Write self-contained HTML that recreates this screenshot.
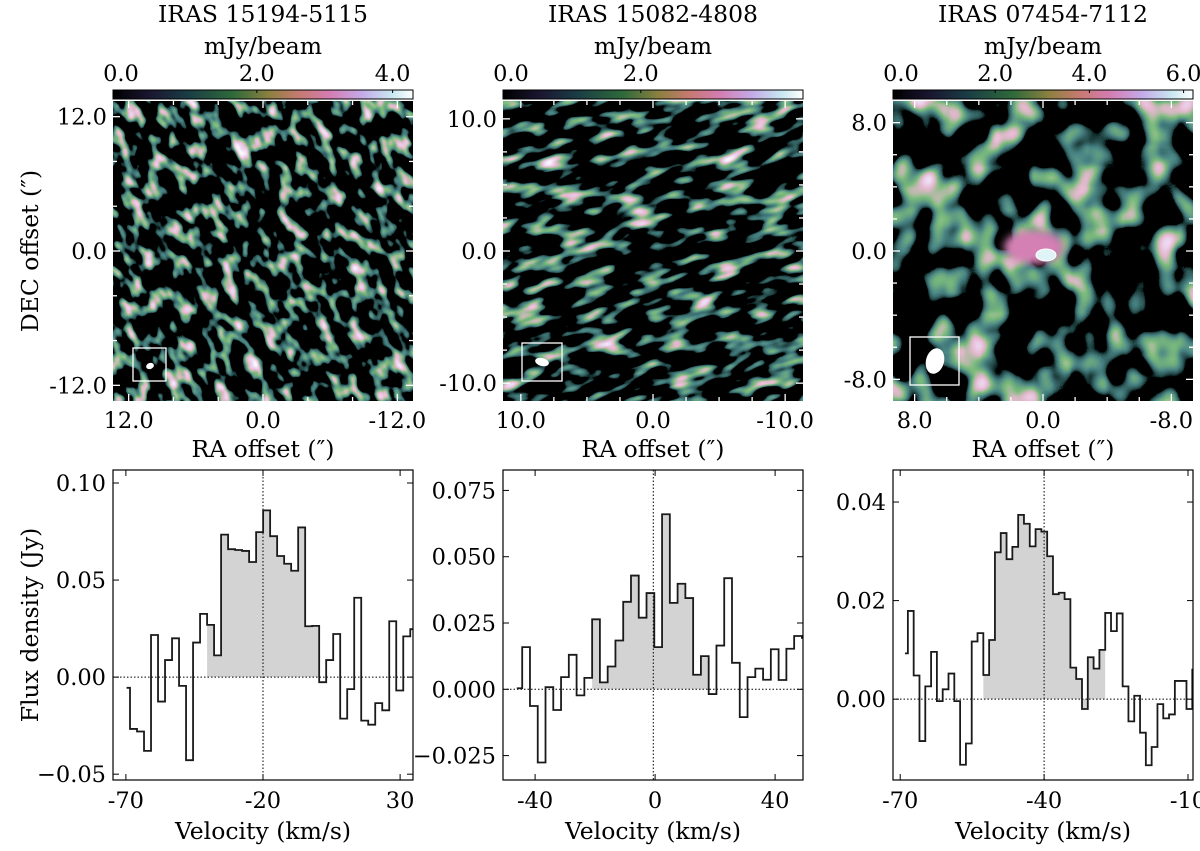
<!DOCTYPE html>
<html><head><meta charset="utf-8"><style>
html,body{margin:0;padding:0;background:#fff;overflow:hidden;width:1200px;height:851px;}
svg{display:block;font-family:"DejaVu Serif","Liberation Serif",serif;}
</style></head><body>
<svg id="fig" width="1200" height="851" viewBox="0 0 1200 851" xmlns="http://www.w3.org/2000/svg">
<defs>
<linearGradient id="cmap" x1="0" x2="1" y1="0" y2="0">
<stop offset="0" stop-color="#000000"/><stop offset="0.12" stop-color="#1a1530"/>
<stop offset="0.25" stop-color="#1a3d45"/><stop offset="0.4" stop-color="#2e6a3a"/>
<stop offset="0.52" stop-color="#8c8040"/><stop offset="0.62" stop-color="#c67a70"/>
<stop offset="0.72" stop-color="#d47cb0"/><stop offset="0.83" stop-color="#c4aae8"/>
<stop offset="0.93" stop-color="#c8e8f0"/><stop offset="1" stop-color="#ffffff"/>
</linearGradient>
<filter id="n1" x="0" y="0" width="1" height="1" filterUnits="objectBoundingBox">
<feTurbulence type="fractalNoise" baseFrequency="0.075 0.05" numOctaves="2" seed="3"/>
<feColorMatrix type="matrix" values="2.2 0 0 0 -0.95  2.2 0 0 0 -0.95  2.2 0 0 0 -0.95  0 0 0 0 1"/>
<feComponentTransfer><feFuncR type="table" tableValues="0 0 0.07 0.2 0.78 0.85 1"/><feFuncG type="table" tableValues="0 0 0.24 0.5 0.48 0.7 1"/><feFuncB type="table" tableValues="0 0 0.24 0.2 0.62 0.9 1"/></feComponentTransfer>
</filter>
<filter id="n2" x="0" y="0" width="1" height="1" filterUnits="objectBoundingBox">
<feTurbulence type="fractalNoise" baseFrequency="0.03 0.075" numOctaves="2" seed="7"/>
<feColorMatrix type="matrix" values="2.2 0 0 0 -0.97  2.2 0 0 0 -0.97  2.2 0 0 0 -0.97  0 0 0 0 1"/>
<feComponentTransfer><feFuncR type="table" tableValues="0 0 0.07 0.2 0.78 0.85 1"/><feFuncG type="table" tableValues="0 0 0.24 0.5 0.48 0.7 1"/><feFuncB type="table" tableValues="0 0 0.24 0.2 0.62 0.9 1"/></feComponentTransfer>
</filter>
<filter id="n3" x="0" y="0" width="1" height="1" filterUnits="objectBoundingBox">
<feTurbulence type="fractalNoise" baseFrequency="0.028 0.024" numOctaves="2" seed="11"/>
<feColorMatrix type="matrix" values="2.2 0 0 0 -0.92  2.2 0 0 0 -0.92  2.2 0 0 0 -0.92  0 0 0 0 1"/>
<feComponentTransfer><feFuncR type="table" tableValues="0 0 0.07 0.2 0.78 0.85 1"/><feFuncG type="table" tableValues="0 0 0.24 0.5 0.48 0.7 1"/><feFuncB type="table" tableValues="0 0 0.24 0.2 0.62 0.9 1"/></feComponentTransfer>
</filter>
<filter id="blur"><feGaussianBlur stdDeviation="4"/></filter>
<clipPath id="c1"><rect x="113" y="101" width="300" height="300"/></clipPath>
<clipPath id="c2"><rect x="503" y="101" width="300" height="300"/></clipPath>
<clipPath id="c3"><rect x="893" y="101" width="300" height="300"/></clipPath>
<clipPath id="s1"><rect x="113" y="470" width="300" height="310"/></clipPath>
<clipPath id="s2"><rect x="503" y="470" width="300" height="310"/></clipPath>
<clipPath id="s3"><rect x="893" y="470" width="300" height="310"/></clipPath>
</defs>

<g clip-path="url(#c1)">
<rect x="-150" y="-150" width="700" height="700" fill="#000" transform="rotate(-25 263 251)" filter="url(#n1)"/>
</g>
<g clip-path="url(#c2)">
<rect x="350" y="-100" width="600" height="700" fill="#000" transform="rotate(-15 653 251)" filter="url(#n2)"/>
</g>
<g clip-path="url(#c3)">
<rect x="893" y="101" width="300" height="300" fill="#000" filter="url(#n3)"/>
<ellipse cx="1034" cy="247" rx="30" ry="17" fill="#d480b4" filter="url(#blur)"/>
<ellipse cx="1046" cy="255" rx="10" ry="6" fill="#e0f4f8"/>
<ellipse cx="1046" cy="255" rx="10" ry="6" fill="none" stroke="#fff" stroke-width="1"/>
</g>

<g id="layer"></g>
</svg>
<script>
// ---------- spectrum data ----------
const p1Values = [-0.0055,-0.0267,-0.028,-0.038,0.0217,-0.0126,0.0088,0.020,-0.0045,-0.0428,0.0178,0.0326,0.0269,0.0112,0.0734,0.0659,0.0655,0.065,0.0593,0.0747,0.0859,0.0726,0.0624,0.0584,0.0548,0.0771,0.0262,0.0264,-0.0026,0.0088,0.0222,-0.0214,-0.0062,0.0409,-0.0224,-0.0245,-0.0134,-0.0171,0.0288,-0.0069,0.021,0.0247];
const p1Bins = [-69.75, -68.5, 2.555]; // line start, first edge, channel width (km/s)
const p1Fill = [12, 27];
const p1XTicks = [-70, -20, 30];
const p1XLabels = ["-70", "-20", "30"];
const p1YTicks = [-0.05, 0.00, 0.05, 0.10];
const p1YLabels = ["−0.05", "0.00", "0.05", "0.10"];
const p1Center = -20;

const p2Values = [0.0004,0.0159,-0.0063,-0.0276,0.0008,-0.0078,0.0046,0.013,-0.0023,0.0043,0.0264,0.0026,0.0086,0.0184,0.033,0.0429,0.027,0.0363,0.0159,0.066,0.0326,0.0398,0.0344,0.0055,0.0125,-0.0018,0.0165,0.0419,0.01,-0.0105,0.0046,0.0078,0.0036,0.0151,0.0035,0.0153,0.0201,0.0194];
const p2Bins = [-46.1, -44.3, 2.59];
const p2Fill = [10, 24];
const p2XTicks = [-40, 0, 40];
const p2XLabels = ["-40", "0", "40"];
const p2YTicks = [-0.025, 0.000, 0.025, 0.050, 0.075];
const p2YLabels = ["−0.025", "0.000", "0.025", "0.050", "0.075"];
const p2Center = -0.6;

const p3Values = [0.0093,0.0179,0.0048,-0.0085,0.0026,0.0096,-0.0004,0.002,0.0052,-0.0004,-0.0133,-0.009,0.0117,0.0134,0.0049,0.012,0.0298,0.0337,0.0284,0.0309,0.0374,0.0356,0.031,0.0345,0.034,0.029,0.0213,0.0216,0.0203,0.0064,0.0041,-0.002,0.0085,0.0062,0.01,0.0175,0.0138,0.0174,0.0026,-0.0045,0.0007,-0.0068,-0.0134,-0.0097,-0.001,-0.0039,-0.0031,0.0037,0.0037,-0.002,0.006];
const p3Bins = [-69.0, -68.4, 1.21];
const p3Fill = [14, 34];
const p3XTicks = [-70, -40, -10];
const p3XLabels = ["-70", "-40", "-10"];
const p3YTicks = [0.00, 0.02, 0.04];
const p3YLabels = ["0.00", "0.02", "0.04"];
const p3Center = -40;

// ---------- map axes data ----------
const m1Ticks = [12, 0, -12]; const m1Labels = ["12.0","0.0","-12.0"]; const m1Range = 13.4; const m1Minor = 4;
const m2Ticks = [10, 0, -10]; const m2Labels = ["10.0","0.0","-10.0"]; const m2Range = 11.35; const m2Minor = 2.5;
const m3Ticks = [8, 0, -8];  const m3Labels = ["8.0","0.0","-8.0"];   const m3Range = 9.35; const m3Minor = 2;
const cb1Ticks = [0, 2, 4]; const cb1Max = 4.3;
const cb2Ticks = [0, 2];    const cb2Max = 4.5;
const cb3Ticks = [0, 2, 4, 6]; const cb3Max = 6.2;
const titles = ["IRAS 15194-5115", "IRAS 15082-4808", "IRAS 07454-7112"];

const TICK = 22.5, LAB = 23.5;
const NS = "http://www.w3.org/2000/svg";
const layer = document.getElementById('layer');
function mk(tag, attrs, parent, text) {
  const e = document.createElementNS(NS, tag);
  for (const k in attrs) e.setAttribute(k, attrs[k]);
  if (text !== undefined) e.textContent = text;
  (parent || layer).appendChild(e);
  return e;
}

// ---------- maps ----------
const maps = [
  {x0:113, ticks:m1Ticks, labels:m1Labels, r:m1Range, minor:m1Minor, cb:cb1Ticks, cbMax:cb1Max, beam:[133,348,33,33, 150,366,4,3,-20]},
  {x0:503, ticks:m2Ticks, labels:m2Labels, r:m2Range, minor:m2Minor, cb:cb2Ticks, cbMax:cb2Max, beam:[522,343,40,38, 542,362,7,4,15]},
  {x0:893, ticks:m3Ticks, labels:m3Labels, r:m3Range, minor:m3Minor, cb:cb3Ticks, cbMax:cb3Max, beam:[910,337,49,48, 935,361,9,13,15]}
];
maps.forEach((m, i) => {
  const g = mk('g', {});
  
  
  const x0 = m.x0, y0 = 101, W = 300;
  const cx = x0 + W/2, cy = y0 + W/2;
  const sx = v => cx - v / m.r * (W/2);
  const sy = v => cy - v / m.r * (W/2);
  const t = mk('text', {x: cx, y: 22, 'font-size': LAB, 'text-anchor': 'middle'}, g, titles[i]);
  
  
  const u = mk('text', {x: cx, y: 54, 'font-size': LAB, 'text-anchor': 'middle'}, g, 'mJy/beam');
  
  
  const cbr = mk('rect', {x: x0, y: 90, width: W, height: 9, fill: 'url(#cmap)', stroke: '#000', 'stroke-width': 1}, g);
  
  
  m.cb.forEach(v => {
    const px = x0 + 8 + v / m.cbMax * (W - 8);
    mk('line', {x1: px, x2: px, y1: 90, y2: 93, stroke: '#000'}, g);
    const l = mk('text', {x: px, y: 81, 'font-size': TICK, 'text-anchor': 'middle'}, g, v.toFixed(1));
    
    
  });
  for (let v = -Math.floor(m.r / m.minor) * m.minor; v <= m.r; v += m.minor) {
    const major = m.ticks.includes(v);
    const L = major ? 7 : 4;
    const px = sx(v), py = sy(v);
    mk('line', {x1: px, x2: px, y1: y0, y2: y0 + L, stroke: '#fff', 'stroke-width': 1.3}, g);
    mk('line', {x1: px, x2: px, y1: y0 + W, y2: y0 + W - L, stroke: '#fff', 'stroke-width': 1.3}, g);
    mk('line', {x1: x0, x2: x0 + L, y1: py, y2: py, stroke: '#fff', 'stroke-width': 1.3}, g);
    mk('line', {x1: x0 + W, x2: x0 + W - L, y1: py, y2: py, stroke: '#fff', 'stroke-width': 1.3}, g);
  }
  m.ticks.forEach((v, k) => {
    const xl = mk('text', {x: sx(v), y: y0 + W + 27, 'font-size': TICK, 'text-anchor': 'middle'}, g, m.labels[k]);
    
    
    const yl = mk('text', {x: x0 - 6, y: sy(v) + 8, 'font-size': TICK, 'text-anchor': 'end'}, g, m.labels[k]);
    
    
  });
  const b = m.beam;
  const bx = mk('rect', {x: b[0], y: b[1], width: b[2], height: b[3], fill: 'none', stroke: '#fff', 'stroke-width': 1.3}, g);
  
  
  const be = mk('ellipse', {cx: b[4], cy: b[5], rx: b[6], ry: b[7], fill: '#fff', transform: `rotate(${b[8]} ${b[4]} ${b[5]})`}, g);
  
  
  const xt = mk('text', {x: cx, y: y0 + W + 56, 'font-size': LAB, 'text-anchor': 'middle'}, g, 'RA offset (″)');
  
  
});
const dt = mk('text', {x: 0, y: 0, 'font-size': LAB, 'text-anchor': 'middle', transform: 'translate(38 251) rotate(-90)'}, layer, 'DEC offset (″)');



// ---------- spectra ----------
const specs = [
  {x0:113, vals:p1Values, bins:p1Bins, fill:p1Fill, xt:p1XTicks, xl:p1XLabels, yt:p1YTicks, yl:p1YLabels, c:p1Center, xr:[-74.7,34.7], yr:[-0.053,0.1067], clip:'s1'},
  {x0:503, vals:p2Values, bins:p2Bins, fill:p2Fill, xt:p2XTicks, xl:p2XLabels, yt:p2YTicks, yl:p2YLabels, c:p2Center, xr:[-50.7,49.3], yr:[-0.0342,0.0827], clip:'s2'},
  {x0:893, vals:p3Values, bins:p3Bins, fill:p3Fill, xt:p3XTicks, xl:p3XLabels, yt:p3YTicks, yl:p3YLabels, c:p3Center, xr:[-71.5,-8.96], yr:[-0.0164,0.0465], clip:'s3'}
];
specs.forEach((s, i) => {
  const g = mk('g', {});
  
  
  const x0 = s.x0, y0 = 470, W = 300, H = 310;
  const X = v => x0 + (v - s.xr[0]) / (s.xr[1] - s.xr[0]) * W;
  const Y = v => y0 + H - (v - s.yr[0]) / (s.yr[1] - s.yr[0]) * H;
  const edge = k => k === 0 ? s.bins[0] : s.bins[1] + (k - 1) * s.bins[2];
  const n = s.vals.length;
  const inner = mk('g', {'clip-path': `url(#${s.clip})`}, g);
  let fp = `M${X(edge(s.fill[0]))},${Y(0)}`;
  for (let k = s.fill[0]; k <= s.fill[1]; k++) {
    fp += ` L${X(edge(k))},${Y(s.vals[k])} L${X(edge(k+1))},${Y(s.vals[k])}`;
  }
  fp += ` L${X(edge(s.fill[1]+1))},${Y(0)} Z`;
  const f = mk('path', {d: fp, fill: '#d3d3d3', stroke: 'none'}, inner);
  
  
  mk('line', {x1: x0, x2: x0 + W, y1: Y(0), y2: Y(0), stroke: '#000', 'stroke-width': 1, 'stroke-dasharray': '1.5 2'}, inner);
  mk('line', {x1: X(s.c), x2: X(s.c), y1: y0, y2: y0 + H, stroke: '#000', 'stroke-width': 1, 'stroke-dasharray': '1.5 2'}, inner);
  let d = '';
  for (let k = 0; k < n; k++) {
    const a = X(edge(k)), b = k === n - 1 ? x0 + W + 5 : X(edge(k+1)), y = Y(s.vals[k]);
    d += (k === 0 ? `M${a},${y}` : ` L${a},${y}`) + ` L${b},${y}`;
  }
  const ln = mk('path', {d: d, fill: 'none', stroke: '#1a1a1a', 'stroke-width': 1.8}, inner);
  
  
  const fr = mk('rect', {x: x0, y: y0, width: W, height: H, fill: 'none', stroke: '#000', 'stroke-width': 1.2}, g);
  
  
  s.xt.forEach((v, k) => {
    mk('line', {x1: X(v), x2: X(v), y1: y0 + H, y2: y0 + H - 6, stroke: '#000'}, g);
    mk('line', {x1: X(v), x2: X(v), y1: y0, y2: y0 + 6, stroke: '#000'}, g);
    const l = mk('text', {x: X(v), y: y0 + H + 28, 'font-size': TICK, 'text-anchor': 'middle'}, g, s.xl[k]);
    
    
  });
  s.yt.forEach((v, k) => {
    mk('line', {x1: x0, x2: x0 + 6, y1: Y(v), y2: Y(v), stroke: '#000'}, g);
    mk('line', {x1: x0 + W, x2: x0 + W - 6, y1: Y(v), y2: Y(v), stroke: '#000'}, g);
    const l = mk('text', {x: x0 - 7, y: Y(v) + 8, 'font-size': TICK, 'text-anchor': 'end'}, g, s.yl[k]);
    
    
  });
  const xt = mk('text', {x: x0 + W/2, y: 839, 'font-size': LAB, 'text-anchor': 'middle'}, g, 'Velocity (km/s)');
  
  
});
const ft = mk('text', {x: 0, y: 0, 'font-size': LAB, 'text-anchor': 'middle', transform: 'translate(38 625) rotate(-90)'}, layer, 'Flux density (Jy)');


</script>
</body></html>
